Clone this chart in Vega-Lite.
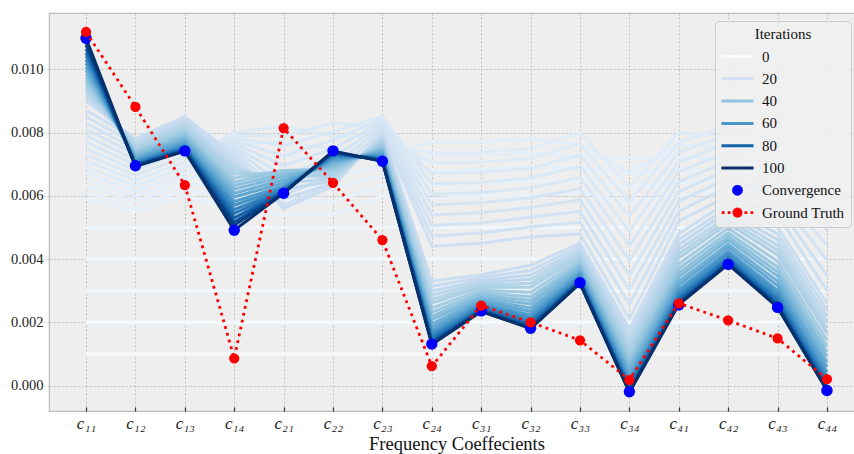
{
"$schema": "https://vega.github.io/schema/vega-lite/v6.json",
"autosize": "none",
"padding": {"left": 49, "top": 13, "right": 0, "bottom": 43},
"width": 815, "height": 398,
"background": "white",
"config": {
 "view": {"fill": "#eeeeee", "stroke": "#bcbcbc", "strokeWidth": 1.2},
 "font": "Liberation Serif",
 "axis": {"gridColor": "#b2b2b2", "gridDash": [2,2], "gridWidth": 0.8, "domain": false, "labelFont": "Liberation Serif", "labelColor": "#222222", "titleFont": "Liberation Serif", "titleFontWeight": "normal", "titleColor": "#111111"}
},
"datasets": {
"lines": [
{"i":0,"k":0,"v":0.001},{"i":0,"k":1,"v":0.001},{"i":0,"k":2,"v":0.001},{"i":0,"k":3,"v":0.001},{"i":0,"k":4,"v":0.001},{"i":0,"k":5,"v":0.001},{"i":0,"k":6,"v":0.001},{"i":0,"k":7,"v":0.001},{"i":0,"k":8,"v":0.001},{"i":0,"k":9,"v":0.001},{"i":0,"k":10,"v":0.001},{"i":0,"k":11,"v":0.001},{"i":0,"k":12,"v":0.001},{"i":0,"k":13,"v":0.001},{"i":0,"k":14,"v":0.001},{"i":0,"k":15,"v":0.001},
{"i":1,"k":0,"v":0.002},{"i":1,"k":1,"v":0.002},{"i":1,"k":2,"v":0.002},{"i":1,"k":3,"v":0.002},{"i":1,"k":4,"v":0.002},{"i":1,"k":5,"v":0.002},{"i":1,"k":6,"v":0.002},{"i":1,"k":7,"v":0.002},{"i":1,"k":8,"v":0.002},{"i":1,"k":9,"v":0.002},{"i":1,"k":10,"v":0.002},{"i":1,"k":11,"v":0.002},{"i":1,"k":12,"v":0.002},{"i":1,"k":13,"v":0.002},{"i":1,"k":14,"v":0.002},{"i":1,"k":15,"v":0.002},
{"i":2,"k":0,"v":0.003},{"i":2,"k":1,"v":0.003},{"i":2,"k":2,"v":0.003},{"i":2,"k":3,"v":0.003},{"i":2,"k":4,"v":0.003},{"i":2,"k":5,"v":0.003},{"i":2,"k":6,"v":0.003},{"i":2,"k":7,"v":0.003},{"i":2,"k":8,"v":0.003},{"i":2,"k":9,"v":0.003},{"i":2,"k":10,"v":0.003},{"i":2,"k":11,"v":0.003},{"i":2,"k":12,"v":0.003},{"i":2,"k":13,"v":0.003},{"i":2,"k":14,"v":0.003},{"i":2,"k":15,"v":0.003},
{"i":3,"k":0,"v":0.004},{"i":3,"k":1,"v":0.004},{"i":3,"k":2,"v":0.004},{"i":3,"k":3,"v":0.004},{"i":3,"k":4,"v":0.004},{"i":3,"k":5,"v":0.004},{"i":3,"k":6,"v":0.004},{"i":3,"k":7,"v":0.004},{"i":3,"k":8,"v":0.004},{"i":3,"k":9,"v":0.004},{"i":3,"k":10,"v":0.004},{"i":3,"k":11,"v":0.004},{"i":3,"k":12,"v":0.004},{"i":3,"k":13,"v":0.004},{"i":3,"k":14,"v":0.004},{"i":3,"k":15,"v":0.004},
{"i":4,"k":0,"v":0.005},{"i":4,"k":1,"v":0.005},{"i":4,"k":2,"v":0.005},{"i":4,"k":3,"v":0.005},{"i":4,"k":4,"v":0.005},{"i":4,"k":5,"v":0.005},{"i":4,"k":6,"v":0.005},{"i":4,"k":7,"v":0.005},{"i":4,"k":8,"v":0.005},{"i":4,"k":9,"v":0.005},{"i":4,"k":10,"v":0.005},{"i":4,"k":11,"v":0.005},{"i":4,"k":12,"v":0.005},{"i":4,"k":13,"v":0.005},{"i":4,"k":14,"v":0.005},{"i":4,"k":15,"v":0.005},
{"i":7,"k":0,"v":0.0059},{"i":7,"k":1,"v":0.0055},{"i":7,"k":2,"v":0.006},{"i":7,"k":3,"v":0.0056},{"i":7,"k":4,"v":0.0054},{"i":7,"k":5,"v":0.0054},{"i":7,"k":6,"v":0.006},{"i":7,"k":7,"v":0.0059},{"i":7,"k":8,"v":0.006},{"i":7,"k":9,"v":0.006},{"i":7,"k":10,"v":0.0061},{"i":7,"k":11,"v":0.0058},{"i":7,"k":12,"v":0.006},{"i":7,"k":13,"v":0.0062},{"i":7,"k":14,"v":0.006},{"i":7,"k":15,"v":0.0058},
{"i":8,"k":0,"v":0.0061},{"i":8,"k":1,"v":0.00566},{"i":8,"k":2,"v":0.00618},{"i":8,"k":3,"v":0.006},{"i":8,"k":4,"v":0.00587},{"i":8,"k":5,"v":0.00581},{"i":8,"k":6,"v":0.00631},{"i":8,"k":7,"v":0.00635},{"i":8,"k":8,"v":0.00643},{"i":8,"k":9,"v":0.00645},{"i":8,"k":10,"v":0.00648},{"i":8,"k":11,"v":0.00627},{"i":8,"k":12,"v":0.0064},{"i":8,"k":13,"v":0.00653},{"i":8,"k":14,"v":0.0064},{"i":8,"k":15,"v":0.0063},
{"i":9,"k":0,"v":0.0063},{"i":9,"k":1,"v":0.00583},{"i":9,"k":2,"v":0.00636},{"i":9,"k":3,"v":0.0064},{"i":9,"k":4,"v":0.00633},{"i":9,"k":5,"v":0.00623},{"i":9,"k":6,"v":0.00663},{"i":9,"k":7,"v":0.0068},{"i":9,"k":8,"v":0.00685},{"i":9,"k":9,"v":0.0069},{"i":9,"k":10,"v":0.00686},{"i":9,"k":11,"v":0.00673},{"i":9,"k":12,"v":0.0068},{"i":9,"k":13,"v":0.00687},{"i":9,"k":14,"v":0.0068},{"i":9,"k":15,"v":0.0068},
{"i":10,"k":0,"v":0.0065},{"i":10,"k":1,"v":0.00599},{"i":10,"k":2,"v":0.00654},{"i":10,"k":3,"v":0.0068},{"i":10,"k":4,"v":0.0068},{"i":10,"k":5,"v":0.00664},{"i":10,"k":6,"v":0.00694},{"i":10,"k":7,"v":0.00725},{"i":10,"k":8,"v":0.00728},{"i":10,"k":9,"v":0.00735},{"i":10,"k":10,"v":0.00724},{"i":10,"k":11,"v":0.0072},{"i":10,"k":12,"v":0.0072},{"i":10,"k":13,"v":0.0072},{"i":10,"k":14,"v":0.0072},{"i":10,"k":15,"v":0.0073},
{"i":11,"k":0,"v":0.0067},{"i":11,"k":1,"v":0.00616},{"i":11,"k":2,"v":0.00671},{"i":11,"k":3,"v":0.0072},{"i":11,"k":4,"v":0.00727},{"i":11,"k":5,"v":0.00706},{"i":11,"k":6,"v":0.00725},{"i":11,"k":7,"v":0.0077},{"i":11,"k":8,"v":0.0077},{"i":11,"k":9,"v":0.0078},{"i":11,"k":10,"v":0.00762},{"i":11,"k":11,"v":0.00674},{"i":11,"k":12,"v":0.0076},{"i":11,"k":13,"v":0.00753},{"i":11,"k":14,"v":0.0076},{"i":11,"k":15,"v":0.0078},
{"i":12,"k":0,"v":0.0069},{"i":12,"k":1,"v":0.00632},{"i":12,"k":2,"v":0.00689},{"i":12,"k":3,"v":0.0076},{"i":12,"k":4,"v":0.00773},{"i":12,"k":5,"v":0.00747},{"i":12,"k":6,"v":0.00756},{"i":12,"k":7,"v":0.00737},{"i":12,"k":8,"v":0.00738},{"i":12,"k":9,"v":0.00749},{"i":12,"k":10,"v":0.008},{"i":12,"k":11,"v":0.00627},{"i":12,"k":12,"v":0.008},{"i":12,"k":13,"v":0.00787},{"i":12,"k":14,"v":0.008},{"i":12,"k":15,"v":0.00732},
{"i":13,"k":0,"v":0.0071},{"i":13,"k":1,"v":0.00649},{"i":13,"k":2,"v":0.00707},{"i":13,"k":3,"v":0.008},{"i":13,"k":4,"v":0.0082},{"i":13,"k":5,"v":0.00789},{"i":13,"k":6,"v":0.00788},{"i":13,"k":7,"v":0.00704},{"i":13,"k":8,"v":0.00706},{"i":13,"k":9,"v":0.00718},{"i":13,"k":10,"v":0.00764},{"i":13,"k":11,"v":0.00581},{"i":13,"k":12,"v":0.00769},{"i":13,"k":13,"v":0.0082},{"i":13,"k":14,"v":0.00771},{"i":13,"k":15,"v":0.00684},
{"i":14,"k":0,"v":0.0073},{"i":14,"k":1,"v":0.00665},{"i":14,"k":2,"v":0.00725},{"i":14,"k":3,"v":0.00791},{"i":14,"k":4,"v":0.00789},{"i":14,"k":5,"v":0.0083},{"i":14,"k":6,"v":0.00819},{"i":14,"k":7,"v":0.00671},{"i":14,"k":8,"v":0.00674},{"i":14,"k":9,"v":0.00687},{"i":14,"k":10,"v":0.00729},{"i":14,"k":11,"v":0.00535},{"i":14,"k":12,"v":0.00738},{"i":14,"k":13,"v":0.00793},{"i":14,"k":14,"v":0.00742},{"i":14,"k":15,"v":0.00636},
{"i":15,"k":0,"v":0.0075},{"i":15,"k":1,"v":0.00681},{"i":15,"k":2,"v":0.00743},{"i":15,"k":3,"v":0.00783},{"i":15,"k":4,"v":0.00758},{"i":15,"k":5,"v":0.00803},{"i":15,"k":6,"v":0.0085},{"i":15,"k":7,"v":0.00638},{"i":15,"k":8,"v":0.00642},{"i":15,"k":9,"v":0.00656},{"i":15,"k":10,"v":0.00693},{"i":15,"k":11,"v":0.00488},{"i":15,"k":12,"v":0.00707},{"i":15,"k":13,"v":0.00765},{"i":15,"k":14,"v":0.00713},{"i":15,"k":15,"v":0.00588},
{"i":16,"k":0,"v":0.0077},{"i":16,"k":1,"v":0.00698},{"i":16,"k":2,"v":0.00761},{"i":16,"k":3,"v":0.00774},{"i":16,"k":4,"v":0.00726},{"i":16,"k":5,"v":0.00776},{"i":16,"k":6,"v":0.00842},{"i":16,"k":7,"v":0.00605},{"i":16,"k":8,"v":0.0061},{"i":16,"k":9,"v":0.00625},{"i":16,"k":10,"v":0.00658},{"i":16,"k":11,"v":0.00442},{"i":16,"k":12,"v":0.00676},{"i":16,"k":13,"v":0.00738},{"i":16,"k":14,"v":0.00684},{"i":16,"k":15,"v":0.0054},
{"i":17,"k":0,"v":0.0079},{"i":17,"k":1,"v":0.00714},{"i":17,"k":2,"v":0.00779},{"i":17,"k":3,"v":0.00765},{"i":17,"k":4,"v":0.00695},{"i":17,"k":5,"v":0.00749},{"i":17,"k":6,"v":0.00833},{"i":17,"k":7,"v":0.00572},{"i":17,"k":8,"v":0.00578},{"i":17,"k":9,"v":0.00594},{"i":17,"k":10,"v":0.00622},{"i":17,"k":11,"v":0.00395},{"i":17,"k":12,"v":0.00644},{"i":17,"k":13,"v":0.0071},{"i":17,"k":14,"v":0.00656},{"i":17,"k":15,"v":0.00492},
{"i":18,"k":0,"v":0.0081},{"i":18,"k":1,"v":0.00731},{"i":18,"k":2,"v":0.00796},{"i":18,"k":3,"v":0.00756},{"i":18,"k":4,"v":0.00664},{"i":18,"k":5,"v":0.00721},{"i":18,"k":6,"v":0.00825},{"i":18,"k":7,"v":0.00539},{"i":18,"k":8,"v":0.00546},{"i":18,"k":9,"v":0.00563},{"i":18,"k":10,"v":0.00587},{"i":18,"k":11,"v":0.00349},{"i":18,"k":12,"v":0.00613},{"i":18,"k":13,"v":0.00683},{"i":18,"k":14,"v":0.00627},{"i":18,"k":15,"v":0.00444},
{"i":19,"k":0,"v":0.0083},{"i":19,"k":1,"v":0.00747},{"i":19,"k":2,"v":0.00814},{"i":19,"k":3,"v":0.00748},{"i":19,"k":4,"v":0.00633},{"i":19,"k":5,"v":0.00694},{"i":19,"k":6,"v":0.00817},{"i":19,"k":7,"v":0.00506},{"i":19,"k":8,"v":0.00514},{"i":19,"k":9,"v":0.00532},{"i":19,"k":10,"v":0.00551},{"i":19,"k":11,"v":0.00303},{"i":19,"k":12,"v":0.00582},{"i":19,"k":13,"v":0.00655},{"i":19,"k":14,"v":0.00598},{"i":19,"k":15,"v":0.00396},
{"i":20,"k":0,"v":0.0085},{"i":20,"k":1,"v":0.00764},{"i":20,"k":2,"v":0.00832},{"i":20,"k":3,"v":0.00739},{"i":20,"k":4,"v":0.00601},{"i":20,"k":5,"v":0.00667},{"i":20,"k":6,"v":0.00808},{"i":20,"k":7,"v":0.00473},{"i":20,"k":8,"v":0.00482},{"i":20,"k":9,"v":0.00501},{"i":20,"k":10,"v":0.00516},{"i":20,"k":11,"v":0.00256},{"i":20,"k":12,"v":0.00551},{"i":20,"k":13,"v":0.00628},{"i":20,"k":14,"v":0.00569},{"i":20,"k":15,"v":0.00348},
{"i":21,"k":0,"v":0.0087},{"i":21,"k":1,"v":0.0078},{"i":21,"k":2,"v":0.0085},{"i":21,"k":3,"v":0.0073},{"i":21,"k":4,"v":0.0057},{"i":21,"k":5,"v":0.0064},{"i":21,"k":6,"v":0.008},{"i":21,"k":7,"v":0.0044},{"i":21,"k":8,"v":0.0045},{"i":21,"k":9,"v":0.0047},{"i":21,"k":10,"v":0.0048},{"i":21,"k":11,"v":0.0021},{"i":21,"k":12,"v":0.0052},{"i":21,"k":13,"v":0.006},{"i":21,"k":14,"v":0.0054},{"i":21,"k":15,"v":0.003},
{"i":23,"k":0,"v":0.009},{"i":23,"k":1,"v":0.0078},{"i":23,"k":2,"v":0.0085},{"i":23,"k":3,"v":0.0072},{"i":23,"k":4,"v":0.0056},{"i":23,"k":5,"v":0.0063},{"i":23,"k":6,"v":0.008},{"i":23,"k":7,"v":0.0033},{"i":23,"k":8,"v":0.0035},{"i":23,"k":9,"v":0.0038},{"i":23,"k":10,"v":0.0045},{"i":23,"k":11,"v":0.0018},{"i":23,"k":12,"v":0.0048},{"i":23,"k":13,"v":0.0058},{"i":23,"k":14,"v":0.005},{"i":23,"k":15,"v":0.0026},
{"i":25,"k":0,"v":0.0091},{"i":25,"k":1,"v":0.00773},{"i":25,"k":2,"v":0.00841},{"i":25,"k":3,"v":0.00709},{"i":25,"k":4,"v":0.0059},{"i":25,"k":5,"v":0.00639},{"i":25,"k":6,"v":0.00793},{"i":25,"k":7,"v":0.00314},{"i":25,"k":8,"v":0.00341},{"i":25,"k":9,"v":0.00364},{"i":25,"k":10,"v":0.0044},{"i":25,"k":11,"v":0.00164},{"i":25,"k":12,"v":0.00462},{"i":25,"k":13,"v":0.00564},{"i":25,"k":14,"v":0.0048},{"i":25,"k":15,"v":0.00238},
{"i":27,"k":0,"v":0.00919},{"i":27,"k":1,"v":0.00767},{"i":27,"k":2,"v":0.00833},{"i":27,"k":3,"v":0.00698},{"i":27,"k":4,"v":0.0062},{"i":27,"k":5,"v":0.00647},{"i":27,"k":6,"v":0.00786},{"i":27,"k":7,"v":0.00299},{"i":27,"k":8,"v":0.00332},{"i":27,"k":9,"v":0.00349},{"i":27,"k":10,"v":0.0043},{"i":27,"k":11,"v":0.00149},{"i":27,"k":12,"v":0.00446},{"i":27,"k":13,"v":0.0055},{"i":27,"k":14,"v":0.00461},{"i":27,"k":15,"v":0.00218},
{"i":29,"k":0,"v":0.00928},{"i":29,"k":1,"v":0.00761},{"i":29,"k":2,"v":0.00826},{"i":29,"k":3,"v":0.00688},{"i":29,"k":4,"v":0.0064},{"i":29,"k":5,"v":0.00655},{"i":29,"k":6,"v":0.0078},{"i":29,"k":7,"v":0.00286},{"i":29,"k":8,"v":0.00324},{"i":29,"k":9,"v":0.00336},{"i":29,"k":10,"v":0.00422},{"i":29,"k":11,"v":0.00135},{"i":29,"k":12,"v":0.0043},{"i":29,"k":13,"v":0.00536},{"i":29,"k":14,"v":0.00444},{"i":29,"k":15,"v":0.00199},
{"i":31,"k":0,"v":0.00936},{"i":31,"k":1,"v":0.00755},{"i":31,"k":2,"v":0.00819},{"i":31,"k":3,"v":0.00678},{"i":31,"k":4,"v":0.0066},{"i":31,"k":5,"v":0.00662},{"i":31,"k":6,"v":0.00774},{"i":31,"k":7,"v":0.00273},{"i":31,"k":8,"v":0.00317},{"i":31,"k":9,"v":0.00323},{"i":31,"k":10,"v":0.00414},{"i":31,"k":11,"v":0.00122},{"i":31,"k":12,"v":0.00416},{"i":31,"k":13,"v":0.00524},{"i":31,"k":14,"v":0.00428},{"i":31,"k":15,"v":0.00181},
{"i":33,"k":0,"v":0.00944},{"i":33,"k":1,"v":0.0075},{"i":33,"k":2,"v":0.00813},{"i":33,"k":3,"v":0.00669},{"i":33,"k":4,"v":0.0067},{"i":33,"k":5,"v":0.00668},{"i":33,"k":6,"v":0.00769},{"i":33,"k":7,"v":0.00261},{"i":33,"k":8,"v":0.0031},{"i":33,"k":9,"v":0.00311},{"i":33,"k":10,"v":0.00406},{"i":33,"k":11,"v":0.00111},{"i":33,"k":12,"v":0.00403},{"i":33,"k":13,"v":0.00512},{"i":33,"k":14,"v":0.00413},{"i":33,"k":15,"v":0.00165},
{"i":36,"k":0,"v":0.00956},{"i":36,"k":1,"v":0.00743},{"i":36,"k":2,"v":0.00804},{"i":36,"k":3,"v":0.00656},{"i":36,"k":4,"v":0.0068},{"i":36,"k":5,"v":0.00677},{"i":36,"k":6,"v":0.00762},{"i":36,"k":7,"v":0.00245},{"i":36,"k":8,"v":0.00301},{"i":36,"k":9,"v":0.00295},{"i":36,"k":10,"v":0.00396},{"i":36,"k":11,"v":0.00095},{"i":36,"k":12,"v":0.00385},{"i":36,"k":13,"v":0.00497},{"i":36,"k":14,"v":0.00393},{"i":36,"k":15,"v":0.00143},
{"i":39,"k":0,"v":0.00966},{"i":39,"k":1,"v":0.00737},{"i":39,"k":2,"v":0.00796},{"i":39,"k":3,"v":0.00643},{"i":39,"k":4,"v":0.0068},{"i":39,"k":5,"v":0.00685},{"i":39,"k":6,"v":0.00755},{"i":39,"k":7,"v":0.00231},{"i":39,"k":8,"v":0.00293},{"i":39,"k":9,"v":0.00281},{"i":39,"k":10,"v":0.00387},{"i":39,"k":11,"v":0.0008},{"i":39,"k":12,"v":0.0037},{"i":39,"k":13,"v":0.00483},{"i":39,"k":14,"v":0.00375},{"i":39,"k":15,"v":0.00124},
{"i":42,"k":0,"v":0.00976},{"i":42,"k":1,"v":0.00732},{"i":42,"k":2,"v":0.0079},{"i":42,"k":3,"v":0.00632},{"i":42,"k":4,"v":0.0067},{"i":42,"k":5,"v":0.00692},{"i":42,"k":6,"v":0.0075},{"i":42,"k":7,"v":0.00219},{"i":42,"k":8,"v":0.00286},{"i":42,"k":9,"v":0.00269},{"i":42,"k":10,"v":0.0038},{"i":42,"k":11,"v":0.00068},{"i":42,"k":12,"v":0.00356},{"i":42,"k":13,"v":0.00471},{"i":42,"k":14,"v":0.0036},{"i":42,"k":15,"v":0.00107},
{"i":45,"k":0,"v":0.00986},{"i":45,"k":1,"v":0.00727},{"i":45,"k":2,"v":0.00784},{"i":45,"k":3,"v":0.00621},{"i":45,"k":4,"v":0.0066},{"i":45,"k":5,"v":0.00698},{"i":45,"k":6,"v":0.00745},{"i":45,"k":7,"v":0.00208},{"i":45,"k":8,"v":0.00279},{"i":45,"k":9,"v":0.00258},{"i":45,"k":10,"v":0.00373},{"i":45,"k":11,"v":0.00057},{"i":45,"k":12,"v":0.00343},{"i":45,"k":13,"v":0.0046},{"i":45,"k":14,"v":0.00346},{"i":45,"k":15,"v":0.00092},
{"i":49,"k":0,"v":0.00997},{"i":49,"k":1,"v":0.00721},{"i":49,"k":2,"v":0.00777},{"i":49,"k":3,"v":0.00608},{"i":49,"k":4,"v":0.0065},{"i":49,"k":5,"v":0.00705},{"i":49,"k":6,"v":0.00739},{"i":49,"k":7,"v":0.00195},{"i":49,"k":8,"v":0.00272},{"i":49,"k":9,"v":0.00245},{"i":49,"k":10,"v":0.00364},{"i":49,"k":11,"v":0.00044},{"i":49,"k":12,"v":0.00329},{"i":49,"k":13,"v":0.00447},{"i":49,"k":14,"v":0.0033},{"i":49,"k":15,"v":0.00074},
{"i":53,"k":0,"v":0.01007},{"i":53,"k":1,"v":0.00717},{"i":53,"k":2,"v":0.00771},{"i":53,"k":3,"v":0.00596},{"i":53,"k":4,"v":0.0064},{"i":53,"k":5,"v":0.00711},{"i":53,"k":6,"v":0.00734},{"i":53,"k":7,"v":0.00184},{"i":53,"k":8,"v":0.00266},{"i":53,"k":9,"v":0.00234},{"i":53,"k":10,"v":0.00358},{"i":53,"k":11,"v":0.00033},{"i":53,"k":12,"v":0.00317},{"i":53,"k":13,"v":0.00437},{"i":53,"k":14,"v":0.00316},{"i":53,"k":15,"v":0.00059},
{"i":58,"k":0,"v":0.01019},{"i":58,"k":1,"v":0.00712},{"i":58,"k":2,"v":0.00764},{"i":58,"k":3,"v":0.00582},{"i":58,"k":4,"v":0.0063},{"i":58,"k":5,"v":0.00717},{"i":58,"k":6,"v":0.00729},{"i":58,"k":7,"v":0.00173},{"i":58,"k":8,"v":0.00259},{"i":58,"k":9,"v":0.00223},{"i":58,"k":10,"v":0.0035},{"i":58,"k":11,"v":0.00021},{"i":58,"k":12,"v":0.00304},{"i":58,"k":13,"v":0.00425},{"i":58,"k":14,"v":0.00301},{"i":58,"k":15,"v":0.00043},
{"i":63,"k":0,"v":0.0103},{"i":63,"k":1,"v":0.00708},{"i":63,"k":2,"v":0.00759},{"i":63,"k":3,"v":0.0057},{"i":63,"k":4,"v":0.00625},{"i":63,"k":5,"v":0.00722},{"i":63,"k":6,"v":0.00724},{"i":63,"k":7,"v":0.00164},{"i":63,"k":8,"v":0.00254},{"i":63,"k":9,"v":0.00214},{"i":63,"k":10,"v":0.00344},{"i":63,"k":11,"v":0.00012},{"i":63,"k":12,"v":0.00294},{"i":63,"k":13,"v":0.00416},{"i":63,"k":14,"v":0.0029},{"i":63,"k":15,"v":0.0003},
{"i":68,"k":0,"v":0.01042},{"i":68,"k":1,"v":0.00704},{"i":68,"k":2,"v":0.00754},{"i":68,"k":3,"v":0.00556},{"i":68,"k":4,"v":0.0062},{"i":68,"k":5,"v":0.00727},{"i":68,"k":6,"v":0.0072},{"i":68,"k":7,"v":0.00155},{"i":68,"k":8,"v":0.00248},{"i":68,"k":9,"v":0.00205},{"i":68,"k":10,"v":0.00339},{"i":68,"k":11,"v":0.00003},{"i":68,"k":12,"v":0.00284},{"i":68,"k":13,"v":0.00407},{"i":68,"k":14,"v":0.00278},{"i":68,"k":15,"v":0.00018},
{"i":74,"k":0,"v":0.01052},{"i":74,"k":1,"v":0.00701},{"i":74,"k":2,"v":0.00751},{"i":74,"k":3,"v":0.00544},{"i":74,"k":4,"v":0.00615},{"i":74,"k":5,"v":0.00731},{"i":74,"k":6,"v":0.00717},{"i":74,"k":7,"v":0.00148},{"i":74,"k":8,"v":0.00244},{"i":74,"k":9,"v":0.00198},{"i":74,"k":10,"v":0.00334},{"i":74,"k":11,"v":-0.00004},{"i":74,"k":12,"v":0.00276},{"i":74,"k":13,"v":0.004},{"i":74,"k":14,"v":0.00269},{"i":74,"k":15,"v":0.00008},
{"i":81,"k":0,"v":0.01064},{"i":81,"k":1,"v":0.00698},{"i":81,"k":2,"v":0.00747},{"i":81,"k":3,"v":0.0053},{"i":81,"k":4,"v":0.00612},{"i":81,"k":5,"v":0.00735},{"i":81,"k":6,"v":0.00714},{"i":81,"k":7,"v":0.0014},{"i":81,"k":8,"v":0.0024},{"i":81,"k":9,"v":0.0019},{"i":81,"k":10,"v":0.0033},{"i":81,"k":11,"v":-0.00012},{"i":81,"k":12,"v":0.00268},{"i":81,"k":13,"v":0.00393},{"i":81,"k":14,"v":0.0026},{"i":81,"k":15,"v":-0.00002},
{"i":88,"k":0,"v":0.01076},{"i":88,"k":1,"v":0.00695},{"i":88,"k":2,"v":0.00744},{"i":88,"k":3,"v":0.00517},{"i":88,"k":4,"v":0.0061},{"i":88,"k":5,"v":0.00738},{"i":88,"k":6,"v":0.00711},{"i":88,"k":7,"v":0.00135},{"i":88,"k":8,"v":0.00237},{"i":88,"k":9,"v":0.00185},{"i":88,"k":10,"v":0.00326},{"i":88,"k":11,"v":-0.00017},{"i":88,"k":12,"v":0.00262},{"i":88,"k":13,"v":0.00388},{"i":88,"k":14,"v":0.00254},{"i":88,"k":15,"v":-0.00009},
{"i":94,"k":0,"v":0.01084},{"i":94,"k":1,"v":0.00694},{"i":94,"k":2,"v":0.00742},{"i":94,"k":3,"v":0.00507},{"i":94,"k":4,"v":0.00609},{"i":94,"k":5,"v":0.0074},{"i":94,"k":6,"v":0.0071},{"i":94,"k":7,"v":0.00132},{"i":94,"k":8,"v":0.00235},{"i":94,"k":9,"v":0.00182},{"i":94,"k":10,"v":0.00324},{"i":94,"k":11,"v":-0.0002},{"i":94,"k":12,"v":0.00259},{"i":94,"k":13,"v":0.00385},{"i":94,"k":14,"v":0.0025},{"i":94,"k":15,"v":-0.00013},
{"i":100,"k":0,"v":0.01098},{"i":100,"k":1,"v":0.00693},{"i":100,"k":2,"v":0.00741},{"i":100,"k":3,"v":0.00491},{"i":100,"k":4,"v":0.00608},{"i":100,"k":5,"v":0.00741},{"i":100,"k":6,"v":0.00709},{"i":100,"k":7,"v":0.0013},{"i":100,"k":8,"v":0.00234},{"i":100,"k":9,"v":0.0018},{"i":100,"k":10,"v":0.00323},{"i":100,"k":11,"v":-0.00022},{"i":100,"k":12,"v":0.00256},{"i":100,"k":13,"v":0.00383},{"i":100,"k":14,"v":0.00247},{"i":100,"k":15,"v":-0.00016}
],
"pts": [
{"s":"Convergence","k":0,"v":0.01098},{"s":"Convergence","k":1,"v":0.00695},{"s":"Convergence","k":2,"v":0.00742},{"s":"Convergence","k":3,"v":0.00491},{"s":"Convergence","k":4,"v":0.00608},{"s":"Convergence","k":5,"v":0.00742},{"s":"Convergence","k":6,"v":0.00709},{"s":"Convergence","k":7,"v":0.00131},{"s":"Convergence","k":8,"v":0.00236},{"s":"Convergence","k":9,"v":0.00181},{"s":"Convergence","k":10,"v":0.00325},{"s":"Convergence","k":11,"v":-0.0002},{"s":"Convergence","k":12,"v":0.00255},{"s":"Convergence","k":13,"v":0.00383},{"s":"Convergence","k":14,"v":0.00247},{"s":"Convergence","k":15,"v":-0.00016},
{"s":"Ground Truth","k":0,"v":0.01118},{"s":"Ground Truth","k":1,"v":0.00881},{"s":"Ground Truth","k":2,"v":0.00634},{"s":"Ground Truth","k":3,"v":0.00086},{"s":"Ground Truth","k":4,"v":0.00814},{"s":"Ground Truth","k":5,"v":0.00641},{"s":"Ground Truth","k":6,"v":0.0046},{"s":"Ground Truth","k":7,"v":0.00061},{"s":"Ground Truth","k":8,"v":0.00253},{"s":"Ground Truth","k":9,"v":0.002},{"s":"Ground Truth","k":10,"v":0.00143},{"s":"Ground Truth","k":11,"v":0.00018},{"s":"Ground Truth","k":12,"v":0.0026},{"s":"Ground Truth","k":13,"v":0.00206},{"s":"Ground Truth","k":14,"v":0.00149},{"s":"Ground Truth","k":15,"v":0.0002}
]
},
"encoding": {
 "x": {"field": "k", "type": "quantitative",
  "scale": {"domain": [-0.75, 15.75], "nice": false, "zero": false},
  "axis": {"values": [0,1,2,3,4,5,6,7,8,9,10,11,12,13,14,15],
   "labelExpr": "['c₁₁','c₁₂','c₁₃','c₁₄','c₂₁','c₂₂','c₂₃','c₂₄','c₃₁','c₃₂','c₃₃','c₃₄','c₄₁','c₄₂','c₄₃','c₄₄'][datum.value]",
   "title": "Frequency Coeffecients", "titleFontSize": 18.5, "titlePadding": 3,
   "labelFontSize": 17, "labelFontStyle": "italic", "labelPadding": 8,
   "tickSize": -4, "tickColor": "#333333", "tickWidth": 1.2}},
 "y": {"field": "v", "type": "quantitative",
  "scale": {"domain": [-0.000806, 0.01178], "nice": false, "zero": false},
  "axis": {"values": [0, 0.002, 0.004, 0.006, 0.008, 0.01], "format": ".3f", "title": null,
   "labelFontSize": 14.5, "labelPadding": 1, "tickSize": 5, "tickColor": "#b2b2b2", "tickDash": [2,2], "tickWidth": 0.8}}
},
"layer": [
 {"data": {"name": "lines"},
  "mark": {"type": "line", "strokeWidth": 3, "strokeJoin": "round"},
  "encoding": {
   "color": {"field": "i", "type": "quantitative",
    "scale": {"domain": [0,12.5,25,37.5,50,62.5,75,87.5,100], "range": ["#f7fbff","#deebf7","#c6dbef","#9ecae1","#6baed6","#4292c6","#2171b5","#08519c","#08306b"], "interpolate": "rgb"},
    "legend": null}
  }},
 {"data": {"name": "pts"},
  "transform": [{"filter": "datum.s === 'Convergence'"}],
  "mark": {"type": "point", "filled": true, "size": 130, "opacity": 1, "strokeWidth": 0},
  "encoding": {
   "fill": {"field": "s", "type": "nominal",
    "scale": {"domain": ["0","20","40","60","80","100","Convergence","Ground Truth"], "range": ["#f7fbff","#cfe1f2","#94c4df","#4a98c9","#1764ab","#08306b","#0000ff","#ff0000"]},
    "legend": {"title": "Iterations", "orient": "none", "legendX": 666, "legendY": 8,
     "titleFontSize": 15, "titleFontWeight": "normal", "titleFont": "Liberation Serif", "titleColor": "#111111", "titleAnchor": "middle", "titlePadding": 7,
     "labelFontSize": 15, "labelFont": "Liberation Serif", "labelColor": "#111111",
     "symbolSize": 196, "symbolOffset": 9, "labelOffset": 17, "rowPadding": 6.3, "padding": 6,
     "symbolType": {"expr": "datum.value === 'Convergence' ? 'M0.77,0L0.711,0.295L0.544,0.544L0.295,0.711L0,0.77L-0.295,0.711L-0.544,0.544L-0.711,0.295L-0.77,0L-0.711,-0.295L-0.544,-0.544L-0.295,-0.711L0,-0.77L0.295,-0.711L0.544,-0.544L0.711,-0.295Z' : (datum.value === 'Ground Truth' ? 'M-2.25,-0.2h0.4v0.4h-0.4ZM-1.4,-0.2h0.4v0.4h-0.4ZM1,-0.2h0.4v0.4h-0.4ZM1.85,-0.2h0.4v0.4h-0.4ZM0.72,0L0.665,0.276L0.509,0.509L0.276,0.665L0,0.72L-0.276,0.665L-0.509,0.509L-0.665,0.276L-0.72,0L-0.665,-0.276L-0.509,-0.509L-0.276,-0.665L0,-0.72L0.276,-0.665L0.509,-0.509L0.665,-0.276Z' : 'M-2.3,0H2.3')"},
     "symbolStrokeColor": {"expr": "(datum.value === 'Convergence' || datum.value === 'Ground Truth') ? 'transparent' : scale('fill', datum.value)"},
     "symbolStrokeWidth": {"expr": "(datum.value === 'Convergence' || datum.value === 'Ground Truth') ? 0 : 3"},
     "symbolOpacity": 1,
     "fillColor": "rgba(240,240,240,0.85)", "strokeColor": "#cccccc", "cornerRadius": 4}}
  }},
 {"data": {"name": "pts"},
  "transform": [{"filter": "datum.s === 'Ground Truth'"}],
  "mark": {"type": "line", "color": "#ff0000", "strokeWidth": 2.8, "strokeDash": [2.8, 4.2]},
  "encoding": {}},
 {"data": {"name": "pts"},
  "transform": [{"filter": "datum.s === 'Ground Truth'"}],
  "mark": {"type": "point", "filled": true, "color": "#ff0000", "size": 105, "opacity": 1, "strokeWidth": 0},
  "encoding": {}}
]
}
